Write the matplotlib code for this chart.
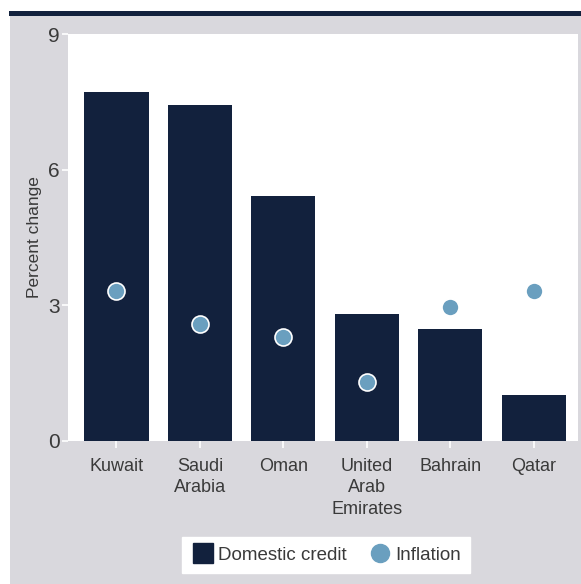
import matplotlib.pyplot as plt
from matplotlib.patches import Rectangle
from matplotlib.lines import Line2D

# values (percent change)
countries = ["Kuwait", "Saudi\nArabia", "Oman", "United\nArab\nEmirates", "Bahrain", "Qatar"]
domestic_credit = [7.72, 7.43, 5.42, 2.81, 2.48, 1.02]
inflation = [3.32, 2.59, 2.30, 1.31, 2.96, 3.32]
y_ticks = [0, 3, 6, 9]

NAVY = "#12213d"
BLUE = "#6a9fbf"
GRAY_BG = "#d9d8dd"
TEXT = "#3a3a3a"

plt.rcParams["font.family"] = ["Liberation Sans Narrow", "Liberation Sans", "DejaVu Sans"]

W, H = 581, 584
fig = plt.figure(figsize=(W / 100, H / 100), dpi=100)
fig.patch.set_facecolor("white")

# gray panel + navy rule across the top (drawn behind the axes)
fig.add_artist(Rectangle((10 / W, 0), 1, 1 - 16 / H, transform=fig.transFigure,
                         facecolor=GRAY_BG, edgecolor="none", zorder=-2))
fig.add_artist(Rectangle((9 / W, 1 - 16 / H), 1, 5.5 / H, transform=fig.transFigure,
                         facecolor=NAVY, edgecolor="none", zorder=-2))

ax = fig.add_axes([68 / W, 1 - 441 / H, (578 - 68) / W, (441 - 34) / H])
ax.set_facecolor("white")

x = range(len(countries))
ax.bar(x, domestic_credit, width=0.77, color=NAVY, zorder=2, label="Domestic credit")
ax.scatter(x, inflation, s=150, color=BLUE, edgecolors="white", linewidths=1.2,
           zorder=3, label="Inflation")

ax.set_xlim(-0.58, 5.53)
ax.set_ylim(0, 9)
ax.set_yticks(y_ticks)
ax.set_xticks(list(x))
ax.set_xticklabels(countries, linespacing=1.35)
for s in ax.spines.values():
    s.set_visible(False)
ax.tick_params(axis="both", colors="white", labelcolor=TEXT, length=5, width=1.2)
ax.tick_params(axis="x", pad=7, labelsize=13)
ax.tick_params(axis="y", pad=2, labelsize=15, length=4)
ax.set_ylabel("Percent change", color=TEXT, fontsize=12.5)
ax.yaxis.set_label_coords((42 - 68) / 510, 0.5)

handles = [
    Line2D([], [], marker="s", linestyle="none", markersize=15, color=NAVY),
    Line2D([], [], marker="o", linestyle="none", markersize=13, color=BLUE),
]
fig.legend(handles, ["Domestic credit", "Inflation"], loc="center",
           bbox_to_anchor=(326 / W, 1 - 555 / H), ncol=2, frameon=True,
           fancybox=False, edgecolor="white", facecolor="white", framealpha=1,
           fontsize=13.5, handletextpad=0.2, columnspacing=1.2, borderpad=0.5,
           handlelength=1.2, labelcolor=TEXT)

fig.savefig("out.png", dpi=100)
